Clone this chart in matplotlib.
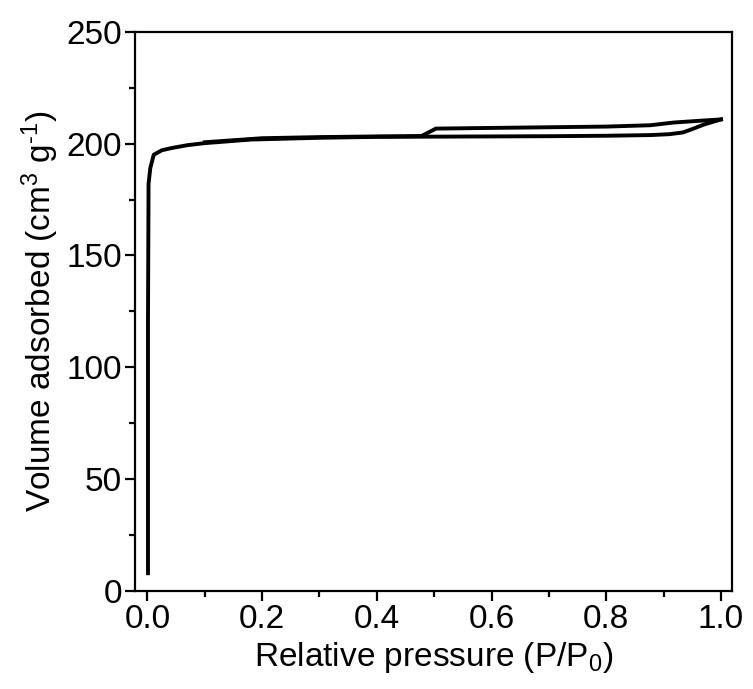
import numpy as np
import matplotlib
matplotlib.use("Agg")
import matplotlib.pyplot as plt

# ─────────────────────────────────────────────
# DATA (read off the reference isotherm)
# ─────────────────────────────────────────────
ads_p = [0.001, 0.001, 0.002, 0.005, 0.011, 0.025, 0.042, 0.07, 0.1, 0.18, 0.3,
         0.4, 0.5, 0.6, 0.7, 0.8, 0.877, 0.91, 0.934, 0.95, 0.97, 1.0]
ads_v = [8, 120, 182, 189, 195, 197, 198, 199.3, 200.2, 201.8, 202.6,
         203.0, 203.1, 203.2, 203.3, 203.5, 203.8, 204.2, 205.0, 206.5, 208.5, 210.8]

des_p = [1.0, 0.963, 0.917, 0.877, 0.8, 0.7, 0.6, 0.503, 0.478, 0.4, 0.3, 0.2, 0.1]
des_v = [210.8, 210.2, 209.4, 208.2, 207.6, 207.3, 207.0, 206.7, 203.4, 203.2, 202.9, 202.4, 200.6]

x_ticks = [0.0, 0.2, 0.4, 0.6, 0.8, 1.0]
y_ticks = [0, 50, 100, 150, 200, 250]

# ─────────────────────────────────────────────
# STYLE
# ─────────────────────────────────────────────
plt.rcParams["font.family"] = ["Liberation Sans", "DejaVu Sans"]
plt.rcParams["mathtext.fontset"] = "custom"
plt.rcParams["mathtext.rm"] = "Liberation Sans"
plt.rcParams["mathtext.it"] = "Liberation Sans"

fig = plt.figure(figsize=(7.53, 6.89), dpi=100)
ax = fig.add_axes([0.179, 0.142, 0.793, 0.812])

ax.plot(ads_p, ads_v, color="black", linewidth=2.8, solid_joinstyle="round")
ax.plot(des_p, des_v, color="black", linewidth=2.8, solid_joinstyle="round")

ax.set_xlim(-0.022, 1.019)
ax.set_ylim(0, 250)
ax.set_xticks(x_ticks)
ax.set_xticklabels([f"{t:.1f}" for t in x_ticks])
ax.set_yticks(y_ticks)
ax.set_xticks(np.arange(0.1, 1.0, 0.2), minor=True)
ax.set_yticks(np.arange(25, 250, 50), minor=True)

for s in ax.spines.values():
    s.set_linewidth(1.6)

ax.tick_params(which="major", direction="out", length=7, width=1.6,
               labelsize=24, pad=2)
ax.tick_params(which="minor", direction="out", length=4, width=1.6)
ax.tick_params(axis="x", which="both", top=False)
ax.tick_params(axis="y", which="both", right=False)

ax.set_xlabel("Relative pressure (P/P$_0$)", fontsize=24, labelpad=4)
ax.set_ylabel("Volume adsorbed (cm$^3$ g$^{\\text{-}1}$)", fontsize=24, labelpad=4)

fig.savefig("out.png", dpi=100)
